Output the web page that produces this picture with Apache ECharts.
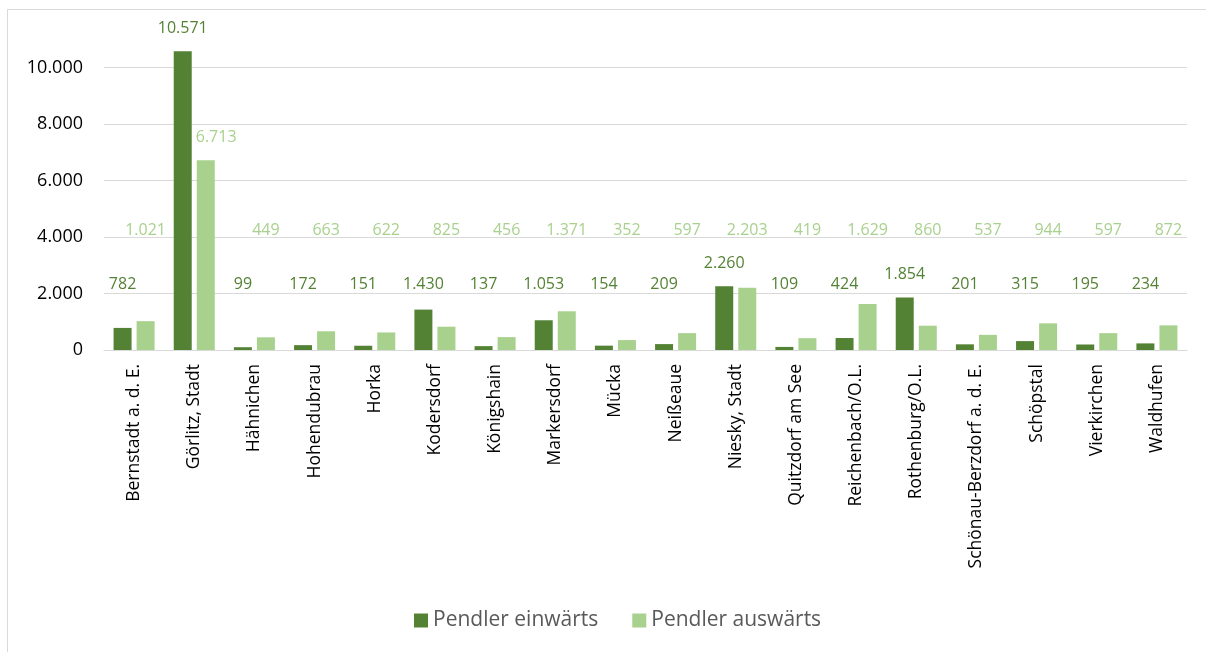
<!DOCTYPE html>
<html>
<head>
<meta charset="utf-8">
<style>
  html, body { margin: 0; padding: 0; background: #fff; }
  #chart { width: 1206px; height: 652px; }
</style>
<script src="https://cdn.jsdelivr.net/npm/echarts@6/dist/echarts.min.js"></script>
</head>
<body>
<div id="chart"></div>
<script>
// Gemeinden im Landkreis
const categories = [
  'Bernstadt a. d. E.', 'Görlitz, Stadt', 'Hähnichen', 'Hohendubrau', 'Horka',
  'Kodersdorf', 'Königshain', 'Markersdorf', 'Mücka', 'Neißeaue',
  'Niesky, Stadt', 'Quitzdorf am See', 'Reichenbach/O.L.', 'Rothenburg/O.L.',
  'Schönau-Berzdorf a. d. E.', 'Schöpstal', 'Vierkirchen', 'Waldhufen'
];

const einwaerts = [782, 10571, 99, 172, 151, 1430, 137, 1053, 154, 209, 2260, 109, 424, 1854, 201, 315, 195, 234];
const auswaerts = [1021, 6713, 449, 663, 622, 825, 456, 1371, 352, 597, 2203, 419, 1629, 860, 537, 944, 597, 872];

const yTicks = [0, 2000, 4000, 6000, 8000, 10000];

// German number format: 10571 -> "10.571"
function fmt(v) {
  return String(Math.round(v)).replace(/\B(?=(\d{3})+(?!\d))/g, '.');
}

// Labels of short bars sit on a common baseline per series;
// taller bars carry their label just above the bar.
// If the neighbouring (left) bar reaches past the label, the label
// is pushed to start at the bar's left edge so it stays readable.
function labelLayoutFor(values, floorValue, leftValues) {
  return function (p) {
    const r = p.rect;
    const i = p.dataIndex;
    const v = values[i];
    const bottom = r.y + r.height;
    const pxPerUnit = v > 0 ? r.height / v : 0;
    const top = Math.min(r.y, bottom - floorValue * pxPerUnit);
    const y = top - 23;
    if (leftValues && pxPerUnit > 0) {
      const leftTop = bottom - leftValues[i] * pxPerUnit;
      if (leftTop < y + 8) {
        return { x: r.x - 1, y: y, align: 'left', verticalAlign: 'middle' };
      }
    }
    return { x: r.x + r.width / 2, y: y, align: 'center', verticalAlign: 'middle' };
  };
}

const FONT = '"Open Sans", "Noto Sans", sans-serif';
const DARK = '#548235';
const LIGHT = '#A9D18E';

const chart = echarts.init(document.getElementById('chart'), null, { renderer: 'canvas' });

chart.setOption({
  animation: false,
  backgroundColor: '#ffffff',
  textStyle: { fontFamily: FONT },
  graphic: [{
    type: 'rect',
    shape: { x: 7.5, y: 9.5, width: 1300, height: 700 },
    style: { fill: 'none', stroke: '#d9d9d9', lineWidth: 1 },
    silent: true,
    z: -10
  }],
  grid: { left: 104, right: 19, top: 11, bottom: 302, containLabel: false },
  legend: {
    bottom: 16,
    left: 409,
    itemWidth: 14,
    itemHeight: 14,
    itemGap: 34,
    icon: 'rect',
    textStyle: { fontFamily: FONT, fontSize: 21, color: '#595959' },
    data: ['Pendler einwärts', 'Pendler auswärts']
  },
  xAxis: {
    type: 'category',
    data: categories,
    axisTick: { show: false },
    axisLine: { lineStyle: { color: '#d9d9d9', width: 1 } },
    axisLabel: {
      rotate: 90,
      interval: 0,
      margin: 14,
      color: '#000000',
      fontFamily: FONT,
      fontSize: 17.5
    }
  },
  yAxis: {
    type: 'value',
    min: yTicks[0],
    max: 12000,
    interval: yTicks[1] - yTicks[0],
    axisLine: { show: false },
    axisTick: { show: false },
    splitLine: { show: true, showMaxLine: false, lineStyle: { color: '#d9d9d9', width: 1 } },
    axisLabel: {
      showMaxLabel: false,
      margin: 21,
      color: '#000000',
      fontFamily: FONT,
      fontSize: 18,
      formatter: fmt
    }
  },
  series: [
    {
      name: 'Pendler einwärts',
      type: 'bar',
      data: einwaerts,
      barWidth: 18,
      barGap: '28%',
      itemStyle: { color: DARK },
      label: {
        show: true,
        position: 'top',
        color: DARK,
        fontFamily: FONT,
        fontSize: 16,
        formatter: p => fmt(p.value)
      },
      labelLayout: labelLayoutFor(einwaerts, 1520, null)
    },
    {
      name: 'Pendler auswärts',
      type: 'bar',
      data: auswaerts,
      barWidth: 18,
      barGap: '28%',
      itemStyle: { color: LIGHT },
      label: {
        show: true,
        position: 'top',
        color: LIGHT,
        fontFamily: FONT,
        fontSize: 16,
        formatter: p => fmt(p.value)
      },
      labelLayout: labelLayoutFor(auswaerts, 3430, einwaerts)
    }
  ]
});
</script>
</body>
</html>
